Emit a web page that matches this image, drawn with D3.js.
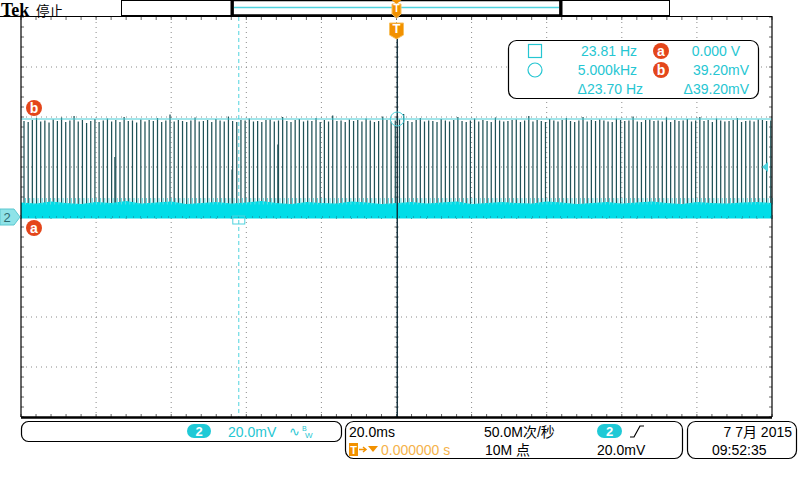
<!DOCTYPE html>
<html><head><meta charset="utf-8">
<script src="https://cdn.jsdelivr.net/npm/d3@7"></script>
<style>
body{margin:0;background:#fff;}
svg{display:block;font-family:"Liberation Sans",Arial,"Noto Sans CJK SC",sans-serif;}
</style></head><body>
<svg id="c" width="800" height="480"></svg>
<script>
// ---------- data ----------
const timeDomainMs = [-100, 100];      // 20 ms/div, 10 div
const voltDomainMv = [-80, 80];        // 20 mV/div, 8 div
const spikeStartMs = -99.2;
const spikePeriodMs = 1.111;
const spikePeakMv = [
38.4,38.0,38.8,39.6,38.2,38.6,37.8,39.0,38.4,39.8,38.0,38.6,40.4,38.2,38.8,37.6,38.4,39.2,38.0,38.6,
39.4,38.2,38.8,38.0,40.0,38.4,38.6,37.8,39.0,38.2,38.8,38.4,39.6,38.0,38.6,41.0,38.2,38.8,38.4,38.0,
38.6,39.8,38.2,38.4,38.8,38.0,39.2,38.6,38.2,40.2,38.4,38.0,38.8,38.6,39.4,38.2,38.4,38.0,38.8,39.0,
38.2,38.6,40.0,38.4,38.0,38.8,39.2,38.2,38.6,38.4,39.6,38.0,38.8,38.2,40.6,38.4,38.6,38.0,39.0,38.4,
38.8,38.2,39.4,38.6,38.0,38.4,40.2,38.8,38.2,38.6,39.0,41.2,38.4,38.0,38.8,39.6,38.2,38.6,38.4,38.0,
39.2,38.6,38.2,38.8,40.0,38.4,38.0,38.6,39.4,38.2,38.8,38.4,38.0,39.8,38.6,38.2,38.4,38.8,39.0,38.0,
38.6,40.4,38.2,38.8,38.4,38.0,39.2,38.6,38.2,38.8,39.6,38.4,38.0,38.6,40.0,38.2,38.8,38.4,39.0,38.6,
38.2,38.0,39.4,38.8,38.4,38.6,40.2,38.2,38.0,38.8,39.0,38.4,38.6,38.2,39.8,38.0,38.8,38.4,38.6,39.2,
38.2,38.6,40.0,38.4,38.8,38.0,39.4,38.6,38.2,38.4,38.8,39.6,38.0,38.4,38.6,38.2,39.0,38.8,38.4,38.6
];
const spikeBaseHairMv = 7.6;
const extraSpikeMs = [-43.8, -31.6, -75.0];
const extraSpikeMv = [19.0, 29.0, 24.0];
const noiseTopMv = [5.8,5.4,6.2,5.6,5.2,6.0,5.6,6.4,5.4,5.8,6.2,5.2,5.6,6.0,5.4,5.8,6.4,5.6,5.2,6.0,
                    5.6,5.4,6.2,5.8,5.2,5.6,6.0,5.4,5.8,6.2,5.2,5.6,6.0,5.6,5.4,6.2,5.8,5.2,5.6,6.0,
                    5.4,5.8,6.2,5.6,5.2,6.0,5.6,5.4,5.8,6.0,5.6];
const noiseBottomMv = -0.6;
const cursorTimesMs = [-42.0, 0.2];
const cursorVoltsMv = [0.0, 39.2];
const measRows = [
  {sym:"square", freq:"23.81 Hz", badge:"a", volt:"0.000 V"},
  {sym:"circle", freq:"5.000kHz", badge:"b", volt:"39.20mV"},
  {sym:"", freq:"\u039423.70 Hz", badge:"", volt:"\u039439.20mV"}
];
const title = "Tek";
const status = "停止";
const chScale = "20.0mV";
const timeScale = "20.0ms";
const sampleRate = "50.0M次/秒";
const recLen = "10M 点";
const trigPos = "0.000000 s";
const trigLevel = "20.0mV";
const dateStr = "7 7月 2015";
const timeStr = "09:52:35";

// ---------- drawing ----------
const svg = d3.select("#c");
const X0 = 21, X1 = 772, Y0 = 17, Y1 = 417;
const x = d3.scaleLinear().domain(timeDomainMs).range([X0, X1]);
const y = d3.scaleLinear().domain(voltDomainMv).range([Y1, Y0]);
const CY = "#26c6d2", CYB = "#00dde8", OR = "#f29100", RED = "#e4461b";

// graticule
const g = svg.append("g");
const xDiv = d3.range(0, 11).map(i => timeDomainMs[0] + i * 20);
const yDiv = d3.range(0, 9).map(i => voltDomainMv[0] + i * 20);
g.selectAll(".vg").data(xDiv.slice(1, -1)).join("line")
  .attr("x1", d => x(d)).attr("x2", d => x(d)).attr("y1", Y0).attr("y2", Y1)
  .attr("stroke", "#8a8a8a").attr("stroke-width", 1).attr("stroke-dasharray", "1,4");
g.selectAll(".hg").data(yDiv.slice(1, -1)).join("line")
  .attr("x1", X0).attr("x2", X1).attr("y1", d => y(d)).attr("y2", d => y(d))
  .attr("stroke", "#8a8a8a").attr("stroke-width", 1).attr("stroke-dasharray", "1,4");
const xMinor = d3.range(0, 51).map(i => timeDomainMs[0] + i * 4);
const yMinor = d3.range(0, 41).map(i => voltDomainMv[0] + i * 4);
[[Y0, 3], [Y1, -3], [y(0), 2]].forEach(([yy, len]) => {
  g.append("g").selectAll("line").data(xMinor).join("line")
    .attr("x1", d => x(d)).attr("x2", d => x(d))
    .attr("y1", len === 2 ? yy - 2 : yy).attr("y2", yy + len)
    .attr("stroke", "#666").attr("stroke-width", 1);
});
[[X0, 3], [X1, -3], [x(0), 2]].forEach(([xx, len]) => {
  g.append("g").selectAll("line").data(yMinor).join("line")
    .attr("y1", d => y(d)).attr("y2", d => y(d))
    .attr("x1", len === 2 ? xx - 2 : xx).attr("x2", xx + len)
    .attr("stroke", "#666").attr("stroke-width", 1);
});

// cursor 1 (dashed vertical)
svg.append("line").attr("x1", x(cursorTimesMs[0])).attr("x2", x(cursorTimesMs[0]))
  .attr("y1", Y0).attr("y2", Y1).attr("stroke", "#4fd3de").attr("stroke-width", 1)
  .attr("stroke-dasharray", "4,3");

// spikes
const spikes = spikePeakMv.map((v, i) => ({t: spikeStartMs + i * spikePeriodMs, v}));
svg.append("g").selectAll("line").data(spikes).join("line")
  .attr("x1", d => x(d.t)).attr("x2", d => x(d.t))
  .attr("y1", y(4)).attr("y2", d => y(d.v))
  .attr("stroke", "#1f5257").attr("stroke-width", 1.25);
svg.append("g").selectAll("line").data(extraSpikeMs).join("line")
  .attr("x1", d => x(d)).attr("x2", d => x(d))
  .attr("y1", y(4)).attr("y2", (d, i) => y(extraSpikeMv[i]))
  .attr("stroke", "#1f5257").attr("stroke-width", 1.2);

// noise band
const nStep = (timeDomainMs[1] - timeDomainMs[0]) / (noiseTopMv.length - 1);
const band = d3.area()
  .x((d, i) => x(timeDomainMs[0] + i * nStep))
  .y0(y(noiseBottomMv)).y1(d => y(d));
svg.append("path").datum(noiseTopMv).attr("d", band).attr("fill", CYB);
svg.append("g").selectAll("line").data(spikes).join("line")
  .attr("x1", d => x(d.t) + 1.5).attr("x2", d => x(d.t) + 1.5)
  .attr("y1", y(5)).attr("y2", y(spikeBaseHairMv))
  .attr("stroke", "#5fdde4").attr("stroke-width", 1);
svg.append("line").attr("x1", X0).attr("x2", X1).attr("y1", y(0)).attr("y2", y(0))
  .attr("stroke", "#335").attr("stroke-width", 1).attr("stroke-dasharray", "1,6").attr("opacity", 0.6);

// cursor b horizontal line
svg.append("line").attr("x1", X0).attr("x2", X1).attr("y1", y(cursorVoltsMv[1])).attr("y2", y(cursorVoltsMv[1]))
  .attr("stroke", "#45cdd6").attr("stroke-width", 1);

// cursor 2 / trigger center line
svg.append("line").attr("x1", x(cursorTimesMs[1])).attr("x2", x(cursorTimesMs[1]))
  .attr("y1", 38).attr("y2", Y1).attr("stroke", "#0d2a36").attr("stroke-width", 1.4);

// cursor markers
svg.append("rect").attr("x", x(cursorTimesMs[0]) - 6).attr("y", y(0) - 1).attr("width", 12).attr("height", 8)
  .attr("fill", "none").attr("stroke", "#4fd3de");
svg.append("circle").attr("cx", x(cursorTimesMs[1])).attr("cy", y(cursorVoltsMv[1])).attr("r", 7)
  .attr("fill", "none").attr("stroke", "#4fd3de");
svg.append("path").attr("d", `M${X1 - 10},${y(20)} L${X1 - 4},${y(20) - 5} L${X1 - 4},${y(20) + 5} Z`)
  .attr("fill", "#4fd3de");

// frame
svg.append("line").attr("x1", 0).attr("x2", X1).attr("y1", Y0 - 0.5).attr("y2", Y0 - 0.5).attr("stroke", "#000").attr("stroke-width", 1.2);
svg.append("line").attr("x1", X0).attr("x2", X0).attr("y1", Y0 - 1).attr("y2", Y1).attr("stroke", "#000").attr("stroke-width", 1.2);
svg.append("line").attr("x1", X1).attr("x2", X1).attr("y1", Y0 - 1).attr("y2", Y1).attr("stroke", "#000").attr("stroke-width", 1.2);
svg.append("line").attr("x1", X0).attr("x2", X1).attr("y1", Y1 + 0.5).attr("y2", Y1 + 0.5).attr("stroke", "#000").attr("stroke-width", 2.5);

// badges a / b
function badge(cx, cy, letter, r) {
  svg.append("circle").attr("cx", cx).attr("cy", cy).attr("r", r).attr("fill", RED);
  svg.append("text").attr("x", cx).attr("y", cy + 4.5).attr("text-anchor", "middle")
    .attr("font-size", 14).attr("font-weight", "bold").attr("fill", "#fff").text(letter);
}
badge(34, y(cursorVoltsMv[1]) - 11, "b", 8);
badge(34, y(cursorVoltsMv[0]) + 11, "a", 8);

// channel 2 ground marker
svg.append("path").attr("d", `M0,${y(0)-8} L14,${y(0)-8} L20,${y(0)} L14,${y(0)+8} L0,${y(0)+8} Z`)
  .attr("fill", "#8fe3e8").attr("stroke", "#5cc8d0");
svg.append("text").attr("x", 7).attr("y", y(0) + 5).attr("text-anchor", "middle")
  .attr("font-size", 13).attr("fill", "#2e6a70").text("2");

// header
svg.append("text").attr("x", 1).attr("y", 16).attr("font-family", "Liberation Serif, serif")
  .attr("font-weight", "bold").attr("font-size", 18).attr("fill", "#000").text(title);
svg.append("text").attr("x", 36).attr("y", 16).attr("font-family", "Noto Sans CJK SC, sans-serif")
  .attr("font-size", 13.5).attr("fill", "#000").text(status);
svg.append("rect").attr("x", 121.5).attr("y", 0.5).attr("width", 548).attr("height", 15)
  .attr("fill", "#fff").attr("stroke", "#000");
svg.append("rect").attr("x", 233).attr("y", 0.5).attr("width", 327).attr("height", 14.5)
  .attr("fill", "#fff").attr("stroke", "#000").attr("stroke-width", 1.5);
svg.append("line").attr("x1", 232).attr("x2", 232).attr("y1", 0).attr("y2", 16).attr("stroke", "#000").attr("stroke-width", 3);
svg.append("line").attr("x1", 561).attr("x2", 561).attr("y1", 0).attr("y2", 16).attr("stroke", "#000").attr("stroke-width", 3);
svg.append("line").attr("x1", 234).attr("x2", 559).attr("y1", 7.5).attr("y2", 7.5).attr("stroke", "#4fd3de").attr("stroke-width", 1.3);

// trigger markers
function tmark(cx, top, w, h, fs) {
  svg.append("path").attr("d", `M${cx - w/2},${top} L${cx + w/2},${top} L${cx + w/2},${top + h} L${cx},${top + h + 4} L${cx - w/2},${top + h} Z`)
    .attr("fill", OR).attr("stroke", "#f7c060");
  svg.append("text").attr("x", cx).attr("y", top + h - 2).attr("text-anchor", "middle")
    .attr("font-size", fs).attr("font-weight", "bold").attr("fill", "#fff").text("T");
}
svg.append("path").attr("d", `M${x(0)-5},0 L${x(0)+5},0 L${x(0)},4 Z`).attr("fill", OR);
tmark(x(0), 4, 9, 10, 10);
tmark(x(0), 23, 14, 12, 13);

// measurement box
svg.append("rect").attr("x", 508.5).attr("y", 40.5).attr("width", 250).attr("height", 58).attr("rx", 8)
  .attr("fill", "#fff").attr("stroke", "#000").attr("stroke-width", 1.2);
const rowY = [56, 75, 94];
measRows.forEach((r, i) => {
  const by = rowY[i];
  if (r.sym === "square") svg.append("rect").attr("x", 528.5).attr("y", by - 11.5).attr("width", 13).attr("height", 13)
    .attr("fill", "none").attr("stroke", CY).attr("stroke-width", 1.2);
  if (r.sym === "circle") svg.append("circle").attr("cx", 535).attr("cy", by - 5).attr("r", 7)
    .attr("fill", "none").attr("stroke", CY).attr("stroke-width", 1.2);
  svg.append("text").attr("x", i === 2 ? 643 : 637).attr("y", by).attr("text-anchor", "end")
    .attr("font-size", 14).attr("fill", CY).text(r.freq);
  if (r.badge) badge(661, by - 5, r.badge, 8);
  svg.append("text").attr("x", i === 0 ? 740 : 749).attr("y", by).attr("text-anchor", "end")
    .attr("font-size", 14).attr("fill", CY).text(r.volt);
});

// bottom panels
svg.append("rect").attr("x", 21.5).attr("y", 421.5).attr("width", 320).attr("height", 20).attr("rx", 7)
  .attr("fill", "#fff").attr("stroke", "#000").attr("stroke-width", 1.2);
svg.append("rect").attr("x", 187).attr("y", 424).attr("width", 24).attr("height", 14).attr("rx", 7).attr("fill", "#1fc9d6");
svg.append("text").attr("x", 199).attr("y", 436).attr("text-anchor", "middle").attr("font-size", 13)
  .attr("font-weight", "bold").attr("fill", "#fff").text("2");
svg.append("text").attr("x", 228).attr("y", 437).attr("font-size", 14).attr("fill", CY).text(chScale);
svg.append("text").attr("x", 289).attr("y", 436).attr("font-size", 13).attr("fill", CY).text("∿");
svg.append("text").attr("x", 302).attr("y", 431).attr("font-size", 7).attr("fill", CY).text("B");
svg.append("text").attr("x", 305).attr("y", 438).attr("font-size", 8).attr("fill", CY).text("W");

svg.append("rect").attr("x", 345.5).attr("y", 421.5).attr("width", 337).attr("height", 37).attr("rx", 8)
  .attr("fill", "#fff").attr("stroke", "#000").attr("stroke-width", 1.2);
svg.append("text").attr("x", 349).attr("y", 437).attr("font-size", 14).attr("fill", "#000").text(timeScale);
svg.append("text").attr("x", 484).attr("y", 437).attr("font-size", 14).attr("fill", "#000").text(sampleRate);
svg.append("rect").attr("x", 597).attr("y", 424).attr("width", 25).attr("height", 14).attr("rx", 7).attr("fill", "#1fc9d6");
svg.append("text").attr("x", 609.5).attr("y", 436).attr("text-anchor", "middle").attr("font-size", 13)
  .attr("font-weight", "bold").attr("fill", "#fff").text("2");
svg.append("path").attr("d", "M630,437 L634,437 L640,426 L644,426").attr("fill", "none").attr("stroke", "#000").attr("stroke-width", 1.2);
svg.append("rect").attr("x", 349).attr("y", 443).attr("width", 9).attr("height", 13).attr("fill", OR);
svg.append("text").attr("x", 353.5).attr("y", 454).attr("text-anchor", "middle").attr("font-size", 11)
  .attr("font-weight", "bold").attr("fill", "#fff").text("T");
svg.append("path").attr("d", "M359,449.5 L366,449.5 M363,447 L366,449.5 L363,452").attr("stroke", OR).attr("stroke-width", 1.5).attr("fill", "none");
svg.append("path").attr("d", "M368,446 L378,446 L373,452 Z").attr("fill", OR);
svg.append("text").attr("x", 381).attr("y", 455).attr("font-size", 14).attr("fill", "#f5b24a").text(trigPos);
svg.append("text").attr("x", 485).attr("y", 455).attr("font-size", 14).attr("fill", "#000").text(recLen);
svg.append("text").attr("x", 597).attr("y", 455).attr("font-size", 14).attr("fill", "#000").text(trigLevel);

svg.append("rect").attr("x", 687.5).attr("y", 421.5).attr("width", 109).attr("height", 37).attr("rx", 8)
  .attr("fill", "#fff").attr("stroke", "#000").attr("stroke-width", 1.2);
svg.append("text").attr("x", 792).attr("y", 437).attr("text-anchor", "end").attr("font-size", 14).attr("fill", "#000").text(dateStr);
svg.append("text").attr("x", 712).attr("y", 455).attr("font-size", 14).attr("fill", "#000").text(timeStr);
</script>
</body></html>
